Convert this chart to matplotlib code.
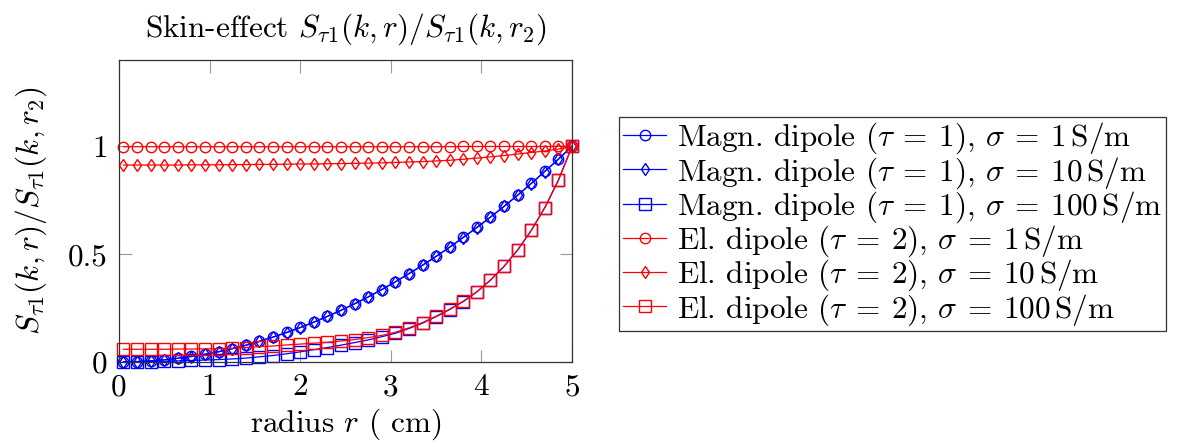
import numpy as np
import matplotlib
matplotlib.use("Agg")
import matplotlib.pyplot as plt

plt.rcParams['font.family'] = 'serif'
plt.rcParams['font.serif'] = ['cmr10']
plt.rcParams['mathtext.fontset'] = 'cm'
plt.rcParams['axes.unicode_minus'] = False
plt.rcParams['axes.formatter.use_mathtext'] = True

# radius samples (cm)
radius = [0.05, 0.20, 0.35, 0.50, 0.65, 0.80, 0.95, 1.10, 1.25, 1.40,
          1.55, 1.70, 1.85, 2.00, 2.15, 2.30, 2.45, 2.60, 2.75, 2.90,
          3.05, 3.20, 3.35, 3.50, 3.65, 3.80, 3.95, 4.10, 4.25, 4.40,
          4.55, 4.70, 4.85, 5.00]

# magnetic dipole (tau = 1)
magn_s1 = [0.000, 0.002, 0.005, 0.010, 0.017, 0.026, 0.036, 0.048, 0.062, 0.078,
           0.096, 0.116, 0.137, 0.160, 0.185, 0.212, 0.240, 0.270, 0.302, 0.336,
           0.372, 0.410, 0.449, 0.490, 0.533, 0.578, 0.624, 0.672, 0.722, 0.774,
           0.828, 0.884, 0.941, 1.000]
magn_s10 = [0.000, 0.002, 0.005, 0.010, 0.017, 0.025, 0.035, 0.047, 0.061, 0.077,
            0.095, 0.115, 0.136, 0.159, 0.184, 0.211, 0.239, 0.269, 0.301, 0.335,
            0.371, 0.409, 0.448, 0.489, 0.532, 0.577, 0.623, 0.671, 0.721, 0.773,
            0.827, 0.883, 0.940, 1.000]
magn_s100 = [0.000, 0.001, 0.002, 0.003, 0.005, 0.007, 0.009, 0.011, 0.014, 0.018,
             0.024, 0.030, 0.038, 0.047, 0.057, 0.067, 0.078, 0.090, 0.102, 0.117,
             0.133, 0.155, 0.180, 0.210, 0.243, 0.280, 0.325, 0.379, 0.443, 0.519,
             0.610, 0.716, 0.843, 1.000]

# electric dipole (tau = 2)
el_s1 = [0.998, 0.998, 0.998, 0.998, 0.998, 0.998, 0.998, 0.998, 0.998, 0.998,
         0.998, 0.998, 0.998, 0.998, 0.998, 0.998, 0.998, 0.998, 0.998, 0.998,
         0.998, 0.998, 0.998, 0.998, 0.998, 0.999, 0.999, 0.999, 0.999, 0.999,
         0.999, 0.999, 1.000, 1.000]
el_s10 = [0.913, 0.913, 0.913, 0.913, 0.913, 0.914, 0.914, 0.914, 0.915, 0.915,
          0.916, 0.916, 0.917, 0.918, 0.918, 0.919, 0.920, 0.921, 0.922, 0.923,
          0.925, 0.927, 0.929, 0.932, 0.935, 0.940, 0.945, 0.951, 0.957, 0.964,
          0.971, 0.978, 0.987, 1.000]
el_s100 = [0.059, 0.059, 0.059, 0.059, 0.060, 0.060, 0.061, 0.062, 0.064, 0.067,
           0.071, 0.074, 0.079, 0.083, 0.087, 0.091, 0.097, 0.104, 0.113, 0.123,
           0.138, 0.158, 0.183, 0.212, 0.245, 0.282, 0.326, 0.380, 0.444, 0.520,
           0.610, 0.716, 0.843, 1.000]

xticks = [0, 1, 2, 3, 4, 5]
xticklabels = ["0", "1", "2", "3", "4", "5"]
yticks = [0, 0.5, 1]
yticklabels = ["0", "0.5", "1"]

series = [
    (magn_s1, 'blue', 'o', 7.5, r"Magn. dipole ($\tau\:=\:1$), $\sigma\:=\:1\,\mathrm{S/m}$"),
    (magn_s10, 'blue', 'd', 6.0, r"Magn. dipole ($\tau\:=\:1$), $\sigma\:=\:10\,\mathrm{S/m}$"),
    (magn_s100, 'blue', 's', 8.0, r"Magn. dipole ($\tau\:=\:1$), $\sigma\:=\:100\,\mathrm{S/m}$"),
    (el_s1, 'red', 'o', 7.5, r"El. dipole ($\tau\:=\:2$), $\sigma\:=\:1\,\mathrm{S/m}$"),
    (el_s10, 'red', 'd', 6.0, r"El. dipole ($\tau\:=\:2$), $\sigma\:=\:10\,\mathrm{S/m}$"),
    (el_s100, 'red', 's', 8.0, r"El. dipole ($\tau\:=\:2$), $\sigma\:=\:100\,\mathrm{S/m}$"),
]

fs = 22.5
fig = plt.figure(figsize=(11.79, 4.47), dpi=100)
ax = fig.add_axes([0.1009, 0.1902, 0.3843, 0.6756])

for vals, col, mk, ms, lab in series:
    ax.plot(radius, vals, color=col, marker=mk, markersize=ms, mfc='none',
            mec=col, mew=1.0, lw=0.9, label=lab, clip_on=False)

ax.set_xlim(0, 5)
ax.set_ylim(0, 1.4)
ax.set_xticks(xticks)
ax.set_xticklabels(xticklabels)
ax.set_yticks(yticks)
ax.set_yticklabels(yticklabels)
ax.tick_params(direction='in', length=9, width=0.8, color='#999999',
               top=True, right=True, labelsize=fs, pad=8)
for sp in ax.spines.values():
    sp.set_linewidth(0.9)
    sp.set_color('#333333')

ax.set_title(r"Skin-effect $S_{\tau1}(k,r)/S_{\tau1}(k,r_2)$", fontsize=fs, pad=17)
ax.set_xlabel(r"radius $r$ ( cm)", fontsize=fs, labelpad=4)
ax.set_ylabel(r"$S_{\tau1}(k,r)/S_{\tau1}(k,r_2)$", fontsize=fs, labelpad=14)

leg = fig.legend(loc='upper left', bbox_to_anchor=(0.525, 0.738), fontsize=fs,
                 handlelength=1.4, handletextpad=0.35, borderpad=0.12,
                 labelspacing=-0.04, borderaxespad=0, fancybox=False,
                 edgecolor='#333333', framealpha=1, numpoints=1)
leg.get_frame().set_linewidth(0.9)

fig.savefig("out.png", dpi=100)
